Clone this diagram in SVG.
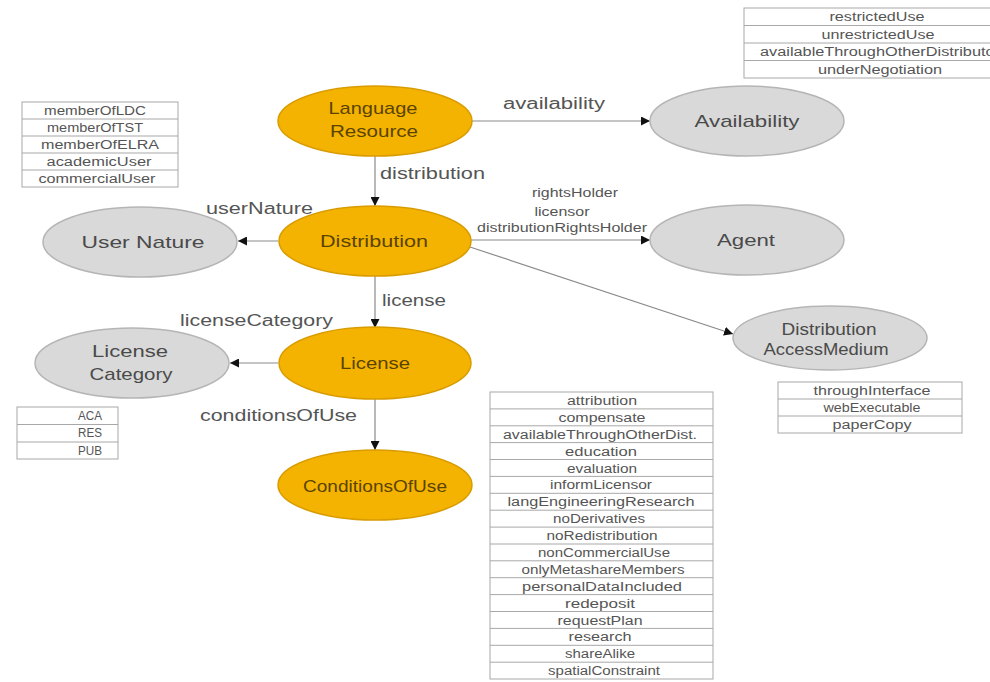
<svg xmlns="http://www.w3.org/2000/svg" width="990" height="682" viewBox="0 0 990 682">
<defs>
<style>
text{font-family:"Liberation Sans",Arial,sans-serif;}
.or{fill:#F5B301;stroke:#D99C00;stroke-width:1.5;}
.gr{fill:#D9D9D9;stroke:#B5B5B5;stroke-width:1.5;}
.ot{font-size:17px;fill:#5A4300;text-anchor:middle;}
.gt{font-size:17px;fill:#4A4A4A;text-anchor:middle;}
.el{font-size:16px;fill:#555;}
.sl{font-size:12px;fill:#555;text-anchor:middle;}
.ed{stroke:#8A8A8A;stroke-width:1.2;fill:none;marker-end:url(#ah);}
.tb{fill:#fff;stroke:#A8A8A8;stroke-width:1;}
.tl{stroke:#A8A8A8;stroke-width:1;}
.tt{font-size:12px;fill:#555;text-anchor:middle;}
</style>
<marker id="ah" viewBox="0 0 10 10" refX="10" refY="5" markerWidth="9" markerHeight="9" markerUnits="userSpaceOnUse" orient="auto">
<path d="M0,0 L10,5 L0,10 z" fill="#111"/>
</marker>
</defs>
<rect width="990" height="682" fill="#fff"/>

<g id="connectors">
<line class="ed" x1="472" y1="121" x2="650" y2="121"/>
<text class="el" x="503" y="109" textLength="102" lengthAdjust="spacingAndGlyphs">availability</text>
<line class="ed" x1="375" y1="153" x2="375" y2="206"/>
<text class="el" x="380" y="179" textLength="105" lengthAdjust="spacingAndGlyphs">distribution</text>
<line class="ed" x1="278" y1="241" x2="238" y2="241"/>
<text class="el" x="206" y="214" textLength="107" lengthAdjust="spacingAndGlyphs">userNature</text>
<line class="ed" x1="471" y1="240" x2="650" y2="240"/>
<text class="sl" x="575" y="197" textLength="86" lengthAdjust="spacingAndGlyphs">rightsHolder</text>
<text class="sl" x="562" y="216" textLength="55" lengthAdjust="spacingAndGlyphs">licensor</text>
<text class="sl" x="562" y="232" textLength="170" lengthAdjust="spacingAndGlyphs">distributionRightsHolder</text>
<line class="ed" x1="470" y1="247" x2="733" y2="334"/>
<line class="ed" x1="375" y1="276" x2="375" y2="328"/>
<text class="el" x="382" y="306" textLength="64" lengthAdjust="spacingAndGlyphs">license</text>
<line class="ed" x1="278" y1="363" x2="230" y2="363"/>
<text class="el" x="180" y="326" textLength="153" lengthAdjust="spacingAndGlyphs">licenseCategory</text>
<line class="ed" x1="375" y1="399" x2="375" y2="450"/>
<text class="el" x="200" y="421" textLength="157" lengthAdjust="spacingAndGlyphs">conditionsOfUse</text>
</g>

<g id="language-resource">
<ellipse class="or" cx="375" cy="121" rx="97" ry="35"/>
<text class="ot" x="373" y="114" textLength="89" lengthAdjust="spacingAndGlyphs">Language</text>
<text class="ot" x="374" y="137" textLength="88" lengthAdjust="spacingAndGlyphs">Resource</text>
</g>
<g id="availability">
<ellipse class="gr" cx="747" cy="121" rx="97" ry="35"/>
<text class="gt" x="747" y="127" textLength="105" lengthAdjust="spacingAndGlyphs">Availability</text>
</g>
<g id="distribution">
<ellipse class="or" cx="375" cy="241" rx="96" ry="35"/>
<text class="ot" x="374" y="247" textLength="108" lengthAdjust="spacingAndGlyphs">Distribution</text>
</g>
<g id="user-nature">
<ellipse class="gr" cx="140" cy="242" rx="97" ry="35"/>
<text class="gt" x="143" y="248" textLength="123" lengthAdjust="spacingAndGlyphs">User Nature</text>
</g>
<g id="agent">
<ellipse class="gr" cx="747" cy="240" rx="97" ry="35"/>
<text class="gt" x="746" y="246" textLength="58" lengthAdjust="spacingAndGlyphs">Agent</text>
</g>
<g id="distribution-access-medium">
<ellipse class="gr" cx="830" cy="338" rx="97" ry="32"/>
<text class="gt" x="829" y="335" textLength="95" lengthAdjust="spacingAndGlyphs">Distribution</text>
<text class="gt" x="826" y="355" textLength="125" lengthAdjust="spacingAndGlyphs">AccessMedium</text>
</g>
<g id="license">
<ellipse class="or" cx="375" cy="363" rx="96" ry="36"/>
<text class="ot" x="375" y="369" textLength="70" lengthAdjust="spacingAndGlyphs">License</text>
</g>
<g id="license-category">
<ellipse class="gr" cx="132" cy="363" rx="97" ry="35"/>
<text class="gt" x="130" y="357" textLength="76" lengthAdjust="spacingAndGlyphs">License</text>
<text class="gt" x="131" y="380" textLength="83" lengthAdjust="spacingAndGlyphs">Category</text>
</g>
<g id="conditions-of-use">
<ellipse class="or" cx="375" cy="485" rx="97" ry="35"/>
<text class="ot" x="375" y="492" textLength="144" lengthAdjust="spacingAndGlyphs">ConditionsOfUse</text>
</g>

<g id="availability-values">
<rect class="tb" x="744" y="8" width="260" height="70"/>
<line class="tl" x1="744" y1="25.5" x2="990" y2="25.5"/>
<line class="tl" x1="744" y1="43" x2="990" y2="43"/>
<line class="tl" x1="744" y1="60.5" x2="990" y2="60.5"/>
<text class="tt" x="877" y="21" textLength="95" lengthAdjust="spacingAndGlyphs">restrictedUse</text>
<text class="tt" x="878" y="39" textLength="113" lengthAdjust="spacingAndGlyphs">unrestrictedUse</text>
<text class="tt" x="760" y="56" style="text-anchor:start" textLength="240" lengthAdjust="spacingAndGlyphs">availableThroughOtherDistributor</text>
<text class="tt" x="880" y="74" textLength="124" lengthAdjust="spacingAndGlyphs">underNegotiation</text>
</g>

<g id="user-nature-values">
<rect class="tb" x="22" y="102" width="156" height="85"/>
<line class="tl" x1="22" y1="119" x2="178" y2="119"/>
<line class="tl" x1="22" y1="136" x2="178" y2="136"/>
<line class="tl" x1="22" y1="153" x2="178" y2="153"/>
<line class="tl" x1="22" y1="170" x2="178" y2="170"/>
<text class="tt" x="95" y="115" textLength="102" lengthAdjust="spacingAndGlyphs">memberOfLDC</text>
<text class="tt" x="95" y="132" textLength="96" lengthAdjust="spacingAndGlyphs">memberOfTST</text>
<text class="tt" x="100" y="149" textLength="118" lengthAdjust="spacingAndGlyphs">memberOfELRA</text>
<text class="tt" x="99" y="166" textLength="105" lengthAdjust="spacingAndGlyphs">academicUser</text>
<text class="tt" x="97" y="183" textLength="117" lengthAdjust="spacingAndGlyphs">commercialUser</text>
</g>

<g id="license-category-values">
<rect class="tb" x="17" y="407" width="101" height="52"/>
<line class="tl" x1="17" y1="424.5" x2="118" y2="424.5"/>
<line class="tl" x1="17" y1="442" x2="118" y2="442"/>
<text class="tt" x="90" y="420" textLength="24" lengthAdjust="spacingAndGlyphs">ACA</text>
<text class="tt" x="90" y="437" textLength="24" lengthAdjust="spacingAndGlyphs">RES</text>
<text class="tt" x="90" y="455" textLength="24" lengthAdjust="spacingAndGlyphs">PUB</text>
</g>

<g id="access-medium-values">
<rect class="tb" x="778" y="382" width="184" height="51"/>
<line class="tl" x1="778" y1="399" x2="962" y2="399"/>
<line class="tl" x1="778" y1="416" x2="962" y2="416"/>
<text class="tt" x="872" y="395" textLength="117" lengthAdjust="spacingAndGlyphs">throughInterface</text>
<text class="tt" x="872" y="412" textLength="97" lengthAdjust="spacingAndGlyphs">webExecutable</text>
<text class="tt" x="872" y="429" textLength="79" lengthAdjust="spacingAndGlyphs">paperCopy</text>
</g>

<g id="conditions-of-use-values">
<rect class="tb" x="490" y="392" width="223" height="287"/>
<g class="tl">
<line x1="490" y1="408.9" x2="713" y2="408.9"/>
<line x1="490" y1="425.8" x2="713" y2="425.8"/>
<line x1="490" y1="442.6" x2="713" y2="442.6"/>
<line x1="490" y1="459.5" x2="713" y2="459.5"/>
<line x1="490" y1="476.4" x2="713" y2="476.4"/>
<line x1="490" y1="493.3" x2="713" y2="493.3"/>
<line x1="490" y1="510.2" x2="713" y2="510.2"/>
<line x1="490" y1="527.1" x2="713" y2="527.1"/>
<line x1="490" y1="544" x2="713" y2="544"/>
<line x1="490" y1="560.8" x2="713" y2="560.8"/>
<line x1="490" y1="577.7" x2="713" y2="577.7"/>
<line x1="490" y1="594.6" x2="713" y2="594.6"/>
<line x1="490" y1="611.5" x2="713" y2="611.5"/>
<line x1="490" y1="628.4" x2="713" y2="628.4"/>
<line x1="490" y1="645.3" x2="713" y2="645.3"/>
<line x1="490" y1="662.2" x2="713" y2="662.2"/>
</g>
<text class="tt" x="602" y="405" textLength="70" lengthAdjust="spacingAndGlyphs">attribution</text>
<text class="tt" x="602" y="422" textLength="87" lengthAdjust="spacingAndGlyphs">compensate</text>
<text class="tt" x="600" y="439" textLength="194" lengthAdjust="spacingAndGlyphs">availableThroughOtherDist.</text>
<text class="tt" x="601" y="456" textLength="72" lengthAdjust="spacingAndGlyphs">education</text>
<text class="tt" x="602" y="473" textLength="70" lengthAdjust="spacingAndGlyphs">evaluation</text>
<text class="tt" x="601" y="489" textLength="102" lengthAdjust="spacingAndGlyphs">informLicensor</text>
<text class="tt" x="601" y="506" textLength="187" lengthAdjust="spacingAndGlyphs">langEngineeringResearch</text>
<text class="tt" x="599" y="523" textLength="92" lengthAdjust="spacingAndGlyphs">noDerivatives</text>
<text class="tt" x="602" y="540" textLength="111" lengthAdjust="spacingAndGlyphs">noRedistribution</text>
<text class="tt" x="604" y="557" textLength="132" lengthAdjust="spacingAndGlyphs">nonCommercialUse</text>
<text class="tt" x="603" y="574" textLength="163" lengthAdjust="spacingAndGlyphs">onlyMetashareMembers</text>
<text class="tt" x="602" y="591" textLength="160" lengthAdjust="spacingAndGlyphs">personalDataIncluded</text>
<text class="tt" x="600" y="608" textLength="70" lengthAdjust="spacingAndGlyphs">redeposit</text>
<text class="tt" x="600" y="625" textLength="85" lengthAdjust="spacingAndGlyphs">requestPlan</text>
<text class="tt" x="600" y="641" textLength="63" lengthAdjust="spacingAndGlyphs">research</text>
<text class="tt" x="600" y="658" textLength="70" lengthAdjust="spacingAndGlyphs">shareAlike</text>
<text class="tt" x="604" y="675" textLength="112" lengthAdjust="spacingAndGlyphs">spatialConstraint</text>
</g>
</svg>
